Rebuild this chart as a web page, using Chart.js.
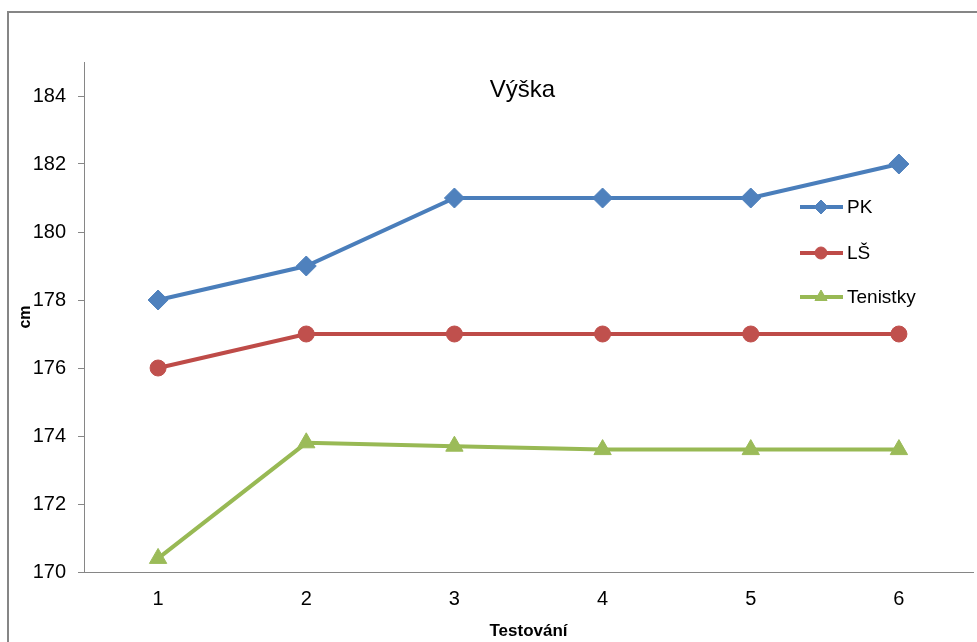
<!DOCTYPE html>
<html>
<head>
<meta charset="utf-8">
<script src="https://cdn.jsdelivr.net/npm/chart.js@4/dist/chart.umd.min.js"></script>
<style>
  html, body { margin: 0; padding: 0; background: #fff; }
  canvas { display: block; }
</style>
</head>
<body>
<canvas id="heightChart" width="977" height="642"></canvas>
<script>
const testLabels = ['1', '2', '3', '4', '5', '6'];
const pkValues = [178, 179, 181, 181, 181, 182];
const lsValues = [176, 177, 177, 177, 177, 177];
const tenistkyValues = [170.4, 173.8, 173.7, 173.6, 173.6, 173.6];
const yTicks = [170, 172, 174, 176, 178, 180, 182, 184];

const FONT = "'Liberation Sans', Arial, sans-serif";
const axisGray = '#868686';

// frame around the whole chart (right and bottom edges fall outside the picture)
const framePlugin = {
    id: 'frame',
    beforeDraw(chart) {
        const ctx = chart.ctx;
        ctx.save();
        ctx.fillStyle = '#fff';
        ctx.fillRect(0, 0, chart.width, chart.height);
        ctx.strokeStyle = axisGray;
        ctx.lineWidth = 2;
        ctx.strokeRect(8, 12, chart.width + 20, chart.height + 20);
        ctx.restore();
    }
};

// title and legend sit inside the plot area, like in the original
const overlayPlugin = {
    id: 'overlay',
    afterDraw(chart) {
        const ctx = chart.ctx;
        const area = chart.chartArea;
        ctx.save();
        ctx.fillStyle = '#000';
        ctx.font = '24px ' + FONT;
        ctx.textAlign = 'center';
        ctx.textBaseline = 'middle';
        ctx.fillText('Výška', (area.left + area.right) / 2 - 6, area.top + 28);

        const x0 = area.right - 173;
        const rows = [area.top + 145, area.top + 191, area.top + 235];
        chart.data.datasets.forEach((ds, i) => {
            const y = rows[i];
            ctx.strokeStyle = ds.borderColor;
            ctx.lineWidth = 4;
            ctx.beginPath();
            ctx.moveTo(x0, y);
            ctx.lineTo(x0 + 43, y);
            ctx.stroke();
            ctx.fillStyle = ds.pointBackgroundColor;
            ctx.strokeStyle = ds.pointBackgroundColor;
            ctx.lineWidth = 1;
            Chart.helpers.drawPoint(ctx, {
                pointStyle: ds.pointStyle,
                radius: ds.legendRadius,
                rotation: 0,
                borderWidth: 1
            }, x0 + 21, y);
            ctx.fillStyle = '#000';
            ctx.font = '19px ' + FONT;
            ctx.textAlign = 'left';
            ctx.textBaseline = 'middle';
            ctx.fillText(ds.label, x0 + 47, y + 1);
        });
        ctx.restore();
    }
};

const ctx = document.getElementById('heightChart').getContext('2d');

const heightChart = new Chart(ctx, {
    type: 'line',
    data: {
        labels: testLabels,
        datasets: [{
            label: 'PK',
            data: pkValues,
            borderColor: '#4A7EBB',
            pointBackgroundColor: '#4F81BD',
            pointBorderColor: '#4F81BD',
            pointStyle: 'rectRot',
            pointRadius: 10,
            legendRadius: 7
        }, {
            label: 'LŠ',
            data: lsValues,
            borderColor: '#BE4B48',
            pointBackgroundColor: '#C0504D',
            pointBorderColor: '#C0504D',
            pointStyle: 'circle',
            pointRadius: 8,
            legendRadius: 6
        }, {
            label: 'Tenistky',
            data: tenistkyValues,
            borderColor: '#98B954',
            pointBackgroundColor: '#9BBB59',
            pointBorderColor: '#9BBB59',
            pointStyle: 'triangle',
            pointRadius: 10,
            legendRadius: 7
        }]
    },
    options: {
        responsive: false,
        animation: false,
        clip: false,
        elements: {
            line: { borderWidth: 4, tension: 0 },
            point: { borderWidth: 1, hoverRadius: 10 }
        },
        layout: {
            autoPadding: false,
            padding: { top: 62, right: 4, bottom: 0, left: 8 }
        },
        plugins: {
            legend: { display: false },
            title: { display: false },
            tooltip: { enabled: false }
        },
        scales: {
            x: {
                offset: true,
                grid: { display: false, drawTicks: false },
                border: { display: true, color: axisGray, width: 1 },
                ticks: {
                    color: '#000',
                    padding: 15,
                    font: { family: FONT, size: 20 }
                },
                title: {
                    display: true,
                    text: 'Testování',
                    color: '#000',
                    padding: { top: 0, bottom: 0 },
                    font: { family: FONT, size: 17, weight: 'bold' }
                },
                afterFit(scale) {
                    scale.height = 70;
                }
            },
            y: {
                min: 170,
                max: 185,
                grid: {
                    drawOnChartArea: false,
                    drawTicks: true,
                    tickLength: 6,
                    color: axisGray
                },
                border: { display: true, color: axisGray, width: 1 },
                ticks: {
                    color: '#000',
                    padding: 12,
                    font: { family: FONT, size: 20 }
                },
                afterBuildTicks(scale) {
                    scale.ticks = yTicks.map(v => ({ value: v }));
                },
                title: {
                    display: true,
                    text: 'cm',
                    color: '#000',
                    padding: { top: 8, bottom: 0 },
                    font: { family: FONT, size: 16, weight: 'bold' }
                },
                afterFit(scale) {
                    scale.width = 76;
                }
            }
        }
    },
    plugins: [framePlugin, overlayPlugin]
});
</script>
</body>
</html>
